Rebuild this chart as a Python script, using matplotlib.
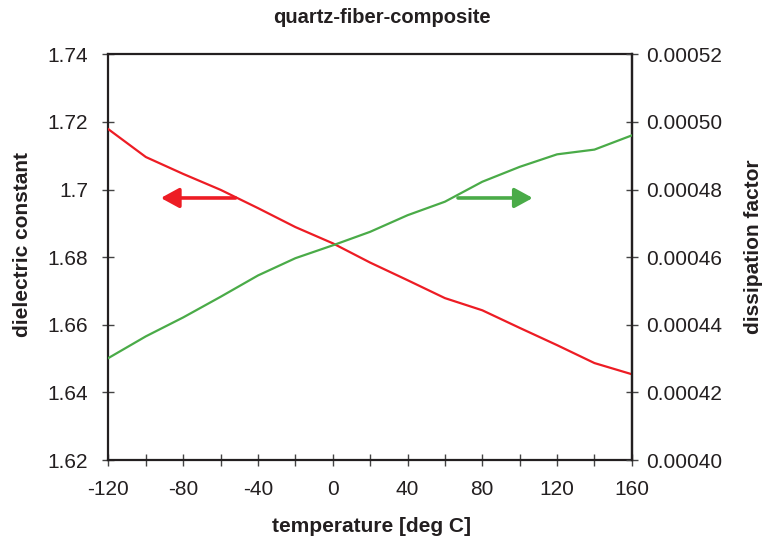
import matplotlib
matplotlib.use("Agg")
import matplotlib.pyplot as plt

plt.rcParams["font.family"] = ["Liberation Sans", "DejaVu Sans"]

# data
temperature = [-120, -100, -80, -60, -40, -20, 0, 20, 40, 60, 80, 100, 120, 140, 160]
dielectric = [1.7178, 1.7096, 1.7046, 1.6999, 1.6945, 1.6889, 1.6841, 1.6784,
              1.6732, 1.6679, 1.6643, 1.6591, 1.6540, 1.6487, 1.6454]
dissipation = [0.0004302, 0.0004366, 0.0004422, 0.0004483, 0.0004546, 0.0004597,
               0.0004635, 0.0004675, 0.0004724, 0.0004764, 0.0004823, 0.0004867,
               0.0004904, 0.0004918, 0.0004960]

left_ticks = [1.62, 1.64, 1.66, 1.68, 1.70, 1.72, 1.74]
left_labels = ["1.62", "1.64", "1.66", "1.68", "1.7", "1.72", "1.74"]
right_ticks = [0.00040, 0.00042, 0.00044, 0.00046, 0.00048, 0.00050, 0.00052]
right_labels = ["0.00040", "0.00042", "0.00044", "0.00046", "0.00048", "0.00050", "0.00052"]
x_ticks = list(range(-120, 161, 20))
x_labels = [str(t) if t % 40 == 0 else "" for t in x_ticks]

red = "#ed1c24"
green = "#4aab48"
dark = "#231f20"

fig = plt.figure(figsize=(7.64, 5.42), dpi=100, facecolor="white")
ax = fig.add_axes([0.142, 0.151, 0.685, 0.749])
ax2 = ax.twinx()

ax.plot(temperature, dielectric, color=red, linewidth=1.6, zorder=3)
ax2.plot(temperature, dissipation, color=green, linewidth=1.6, zorder=3)

ax.set_xlim(-120, 160)
ax.set_ylim(1.62, 1.74)
ax2.set_ylim(0.00040, 0.00052)

ax.set_xticks(x_ticks)
ax.set_xticklabels(x_labels)
ax.set_yticks(left_ticks)
ax.set_yticklabels(left_labels)
ax2.set_yticks(right_ticks)
ax2.set_yticklabels(right_labels)

for a in (ax, ax2):
    a.tick_params(direction="inout", length=9, width=1.0, color="#444444",
                  labelsize=15, labelcolor=dark)
    for s in a.spines.values():
        s.set_color(dark)
        s.set_linewidth(1.6)
ax.tick_params(axis="y", pad=10)
ax.tick_params(axis="x", pad=10)
ax2.tick_params(axis="y", pad=6)
ax2.spines["top"].set_visible(False)
ax2.spines["bottom"].set_visible(False)
ax2.spines["left"].set_visible(False)

# direction arrows
arrow = "-|>,head_length=1.1,head_width=0.6"
ax.annotate("", xy=(-92, 1.6975), xytext=(-52, 1.6975),
            arrowprops=dict(arrowstyle=arrow, color=red, lw=2.6,
                            shrinkA=0, shrinkB=0))
ax.annotate("", xy=(107, 1.6975), xytext=(67, 1.6975),
            arrowprops=dict(arrowstyle=arrow, color=green, lw=2.6,
                            shrinkA=0, shrinkB=0))

fig.text(0.5, 0.967, "quartz-fiber-composite", ha="center", va="center",
         fontsize=14.5, fontweight="bold", color=dark)
fig.text(0.486, 0.028, "temperature [deg C]", ha="center", va="center",
         fontsize=15, fontweight="bold", color=dark)
fig.text(0.029, 0.548, "dielectric constant", ha="center", va="center",
         rotation=90, fontsize=15, fontweight="bold", color=dark)
fig.text(0.986, 0.545, "dissipation factor", ha="center", va="center",
         rotation=90, fontsize=15, fontweight="bold", color=dark)

fig.savefig("out.png", dpi=100, facecolor="white")
